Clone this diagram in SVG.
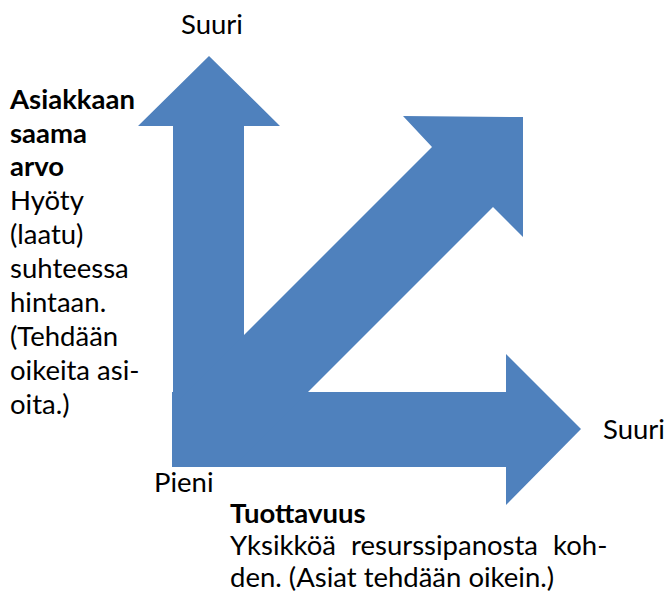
<svg xmlns="http://www.w3.org/2000/svg" width="665" height="599" viewBox="0 0 665 599">
  <style>
    .arrow { fill: #4F81BD; stroke: none; }
    .lbl { font-family: Lato, "Open Sans", "Liberation Sans", sans-serif; font-size: 27.5px; fill: #000; }
    .b { font-weight: bold; }
  </style>
  <rect width="665" height="599" fill="#fff"/>

  <g id="connectors">
    <!-- vertical axis: customer value -->
    <polygon id="axis-up" class="arrow" points="173,467 173,126 138,126 209,56 280,126 244,126 244,467"/>
    <!-- horizontal axis: productivity -->
    <polygon id="axis-right" class="arrow" points="172,392 506,392 506,354 581,429 506,505 506,467 172,467"/>
    <!-- diagonal: both grow -->
    <polygon id="axis-diag" class="arrow" points="432,147 403,116 523,117 523,237 493,207 233,467 173,467 173,406"/>
  </g>

  <g id="label-top">
    <text class="lbl" x="181" y="34">Suuri</text>
  </g>
  <g id="label-right">
    <text class="lbl" x="603" y="439">Suuri</text>
  </g>
  <g id="label-origin">
    <text class="lbl" x="154" y="492">Pieni</text>
  </g>

  <g id="value-text">
    <text class="lbl b" x="10" y="109">Asiakkaan</text>
    <text class="lbl b" x="10" y="142.5">saama</text>
    <text class="lbl b" x="10" y="176">arvo</text>
    <text class="lbl" x="10" y="210">Hyöty</text>
    <text class="lbl" x="10" y="244">(laatu)</text>
    <text class="lbl" x="10" y="278">suhteessa</text>
    <text class="lbl" x="10" y="312">hintaan.</text>
    <text class="lbl" x="10" y="346">(Tehdään</text>
    <text class="lbl" x="10" y="380">oikeita asi-</text>
    <text class="lbl" x="10" y="414">oita.)</text>
  </g>

  <g id="productivity-text">
    <text class="lbl b" x="230" y="523">Tuottavuus</text>
    <text class="lbl" x="230" y="555" word-spacing="8">Yksikköä resurssipanosta koh-</text>
    <text class="lbl" x="230" y="587">den. (Asiat tehdään oikein.)</text>
  </g>
</svg>
